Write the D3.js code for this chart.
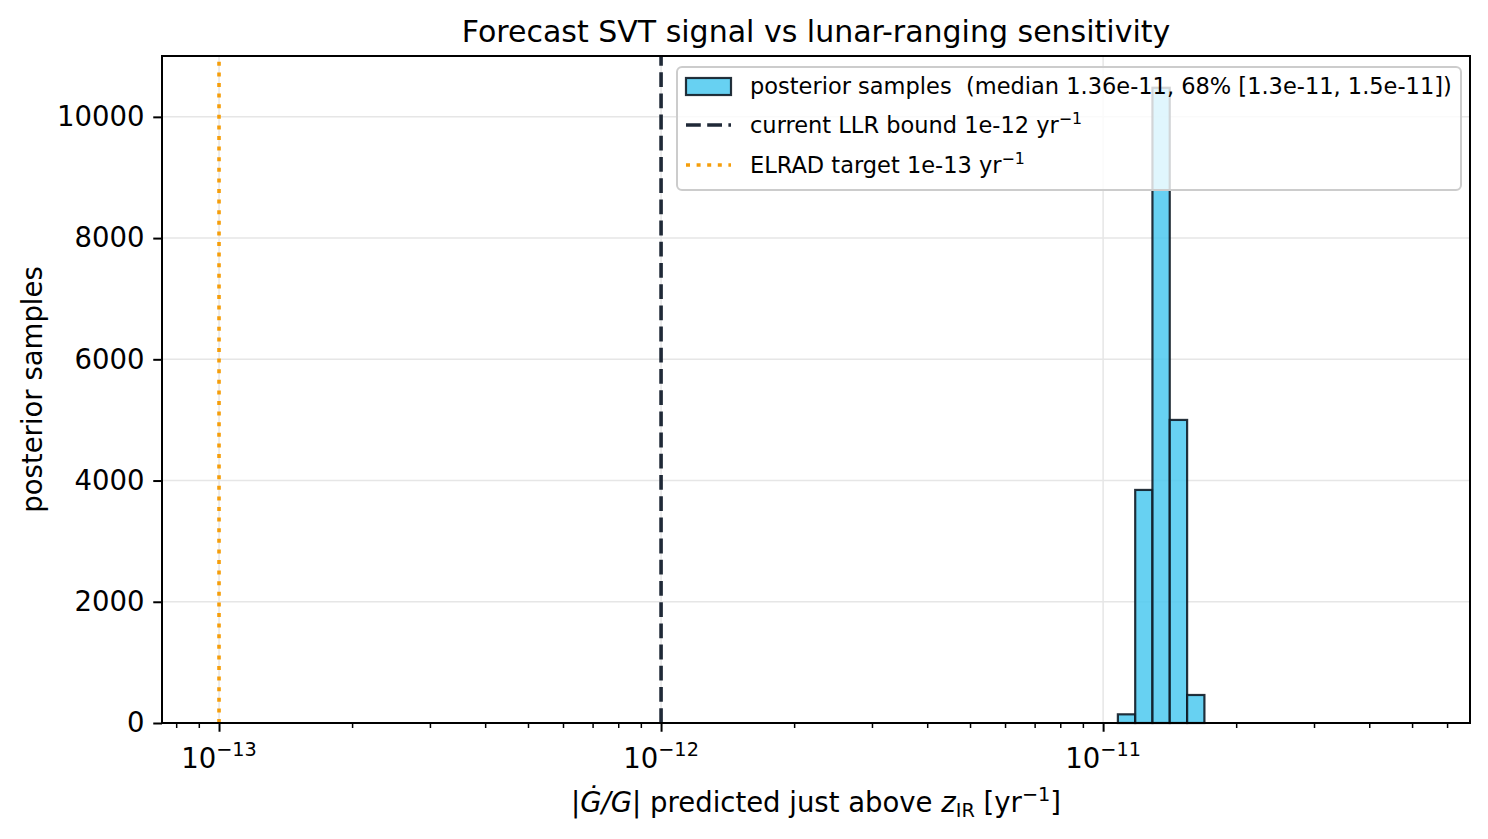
<!DOCTYPE html>
<html>
<head>
<meta charset="utf-8">
<script src="https://cdn.jsdelivr.net/npm/d3@7"></script>
<style>
  body { margin: 0; background: #fff; }
  text { font-family: "DejaVu Sans", sans-serif; fill: #000; }
</style>
</head>
<body>
<div id="chart"></div>
<script>
// Data
var binEdges = [1.080e-11, 1.182e-11, 1.293e-11, 1.415e-11, 1.549e-11, 1.695e-11];
var counts = [143, 3845, 10480, 5000, 462];
var llrBound = 1e-12;
var elradTarget = 1e-13;
var yTicks = [0, 2000, 4000, 6000, 8000, 10000];
var xMajor = [1e-13, 1e-12, 1e-11];
var xMajorExp = ["\u221213", "\u221212", "\u221211"];
var legendLabels = [
    "posterior samples  (median 1.36e-11, 68% [1.3e-11, 1.5e-11])",
    "current LLR bound 1e-12 yr",
    "ELRAD target 1e-13 yr"
];

// Basic size information
var width = 1488, height = 839;
var plot = {left: 162, right: 1470, top: 56, bottom: 723};
var tickFont = "27.5px";

var svg = d3.select("#chart")
    .append("svg")
        .attr("width", width)
        .attr("height", height);

// Scales
var x = d3.scaleLog()
    .domain([Math.pow(10, -13.129), Math.pow(10, -10.170)])
    .range([plot.left, plot.right]);
var y = d3.scaleLinear()
    .domain([0, d3.max(counts) * 1.05])
    .range([plot.bottom, plot.top]);

// minor ticks 2..9 x 10^e inside the domain
var xMinor = [];
for (var e = -14; e <= -10; e++) {
    for (var k = 2; k <= 9; k++) {
        var v = k * Math.pow(10, e);
        if (v >= x.domain()[0] && v <= x.domain()[1]) xMinor.push(v);
    }
}

// Grid
var grid = svg.append("g").attr("stroke", "#e6e6e6").attr("stroke-width", 1.5);
grid.selectAll("line.gy").data(yTicks).join("line")
    .attr("x1", plot.left).attr("x2", plot.right)
    .attr("y1", d => y(d)).attr("y2", d => y(d));
grid.selectAll("line.gx").data(xMajor).join("line")
    .attr("y1", plot.top).attr("y2", plot.bottom)
    .attr("x1", d => x(d)).attr("x2", d => x(d));

// Histogram bars
svg.append("g").selectAll("rect")
    .data(counts)
    .join("rect")
        .attr("x", (d, i) => x(binEdges[i]))
        .attr("width", (d, i) => x(binEdges[i + 1]) - x(binEdges[i]))
        .attr("y", d => y(d))
        .attr("height", d => y(0) - y(d))
        .attr("fill", "#4cc9f0")
        .attr("fill-opacity", 0.85)
        .attr("stroke", "#0f1b26")
        .attr("stroke-opacity", 0.9)
        .attr("stroke-width", 2.2);

// Reference lines
svg.append("line")
    .attr("x1", x(llrBound)).attr("x2", x(llrBound))
    .attr("y1", plot.bottom).attr("y2", plot.top)
    .attr("stroke", "#1f2937").attr("stroke-width", 3.6)
    .attr("stroke-dasharray", "14.8,6.4");
svg.append("line")
    .attr("x1", x(elradTarget)).attr("x2", x(elradTarget))
    .attr("y1", plot.bottom).attr("y2", plot.top)
    .attr("stroke", "#f59e0b").attr("stroke-width", 3.6)
    .attr("stroke-dasharray", "4,6.6");

// Axes
var xAxis = svg.append("g")
    .attr("transform", "translate(0," + plot.bottom + ")")
    .call(d3.axisBottom(x).tickValues(xMajor).tickSize(8.75).tickFormat(""));
var xAxisMinor = svg.append("g")
    .attr("transform", "translate(0," + plot.bottom + ")")
    .call(d3.axisBottom(x).tickValues(xMinor).tickSize(5).tickFormat(""));
xAxisMinor.select(".domain").remove();
xAxisMinor.selectAll("line").attr("stroke-width", 1.5);
xAxis.select(".domain").remove();
xAxis.selectAll("line").attr("stroke-width", 2);

var xLab = svg.append("g").selectAll("text")
    .data(xMajor)
    .join("text")
        .attr("x", d => x(d))
        .attr("y", 768)
        .attr("text-anchor", "middle")
        .style("font-size", tickFont);
xLab.append("tspan").text("10");
xLab.append("tspan")
    .attr("dy", -12)
    .style("font-size", "19.3px")
    .text((d, i) => xMajorExp[i]);

var yAxis = svg.append("g")
    .attr("transform", "translate(" + plot.left + ",0)")
    .call(d3.axisLeft(y).tickValues(yTicks).tickSize(8.75).tickPadding(8.75).tickFormat(d3.format("d")));
yAxis.select(".domain").remove();
yAxis.selectAll("line").attr("stroke-width", 2);
yAxis.selectAll("text")
    .style("font-family", "DejaVu Sans")
    .style("font-size", tickFont)
    .attr("fill", "#000");

// Legend
var leg = svg.append("g");
leg.append("rect")
    .attr("x", 677).attr("y", 67).attr("width", 784).attr("height", 123)
    .attr("rx", 5)
    .attr("fill", "#fff").attr("fill-opacity", 0.8)
    .attr("stroke", "#cccccc").attr("stroke-width", 2);
leg.append("rect")
    .attr("x", 686).attr("y", 78).attr("width", 45).attr("height", 17)
    .attr("fill", "#4cc9f0").attr("fill-opacity", 0.85)
    .attr("stroke", "#0f1b26").attr("stroke-opacity", 0.9).attr("stroke-width", 2.2);
leg.append("line")
    .attr("x1", 686).attr("x2", 731).attr("y1", 125).attr("y2", 125)
    .attr("stroke", "#1f2937").attr("stroke-width", 3.6)
    .attr("stroke-dasharray", "14.8,6.4");
leg.append("line")
    .attr("x1", 686).attr("x2", 731).attr("y1", 165).attr("y2", 165)
    .attr("stroke", "#f59e0b").attr("stroke-width", 3.6)
    .attr("stroke-dasharray", "4,6.6");
var legText = leg.selectAll("text.lt")
    .data(legendLabels)
    .join("text")
        .attr("class", "lt")
        .attr("x", 750)
        .attr("y", (d, i) => 93.5 + i * 39.5)
        .attr("xml:space", "preserve")
        .style("white-space", "pre")
        .style("font-size", "22.5px");
legText.append("tspan").text(d => d);
legText.filter((d, i) => i > 0).append("tspan")
    .attr("dy", -9)
    .style("font-size", "15.8px")
    .text("\u22121");

// Spines
svg.append("rect")
    .attr("x", plot.left).attr("y", plot.top)
    .attr("width", plot.right - plot.left).attr("height", plot.bottom - plot.top)
    .attr("fill", "none").attr("stroke", "#000").attr("stroke-width", 2);

// Title and axis labels
svg.append("text")
    .attr("x", (plot.left + plot.right) / 2).attr("y", 42)
    .attr("text-anchor", "middle")
    .style("font-size", "30px")
    .text("Forecast SVT signal vs lunar-ranging sensitivity");

svg.append("text")
    .attr("transform", "translate(42," + (plot.top + plot.bottom) / 2 + ") rotate(-90)")
    .attr("text-anchor", "middle")
    .style("font-size", tickFont)
    .text("posterior samples");

var xl = svg.append("text")
    .attr("x", (plot.left + plot.right) / 2).attr("y", 812)
    .attr("text-anchor", "middle")
    .attr("xml:space", "preserve")
    .style("font-size", tickFont);
xl.append("tspan").text("|");
xl.append("tspan").style("font-style", "italic").text("\u0120/G");
xl.append("tspan").text("| predicted just above ");
xl.append("tspan").style("font-style", "italic").text("z");
xl.append("tspan").attr("dy", 5).style("font-size", "19.3px").text("IR");
xl.append("tspan").attr("dy", -5).text(" [yr");
xl.append("tspan").attr("dy", -11).style("font-size", "19.3px").text("\u22121");
xl.append("tspan").attr("dy", 11).text("]");
</script>
</body>
</html>
